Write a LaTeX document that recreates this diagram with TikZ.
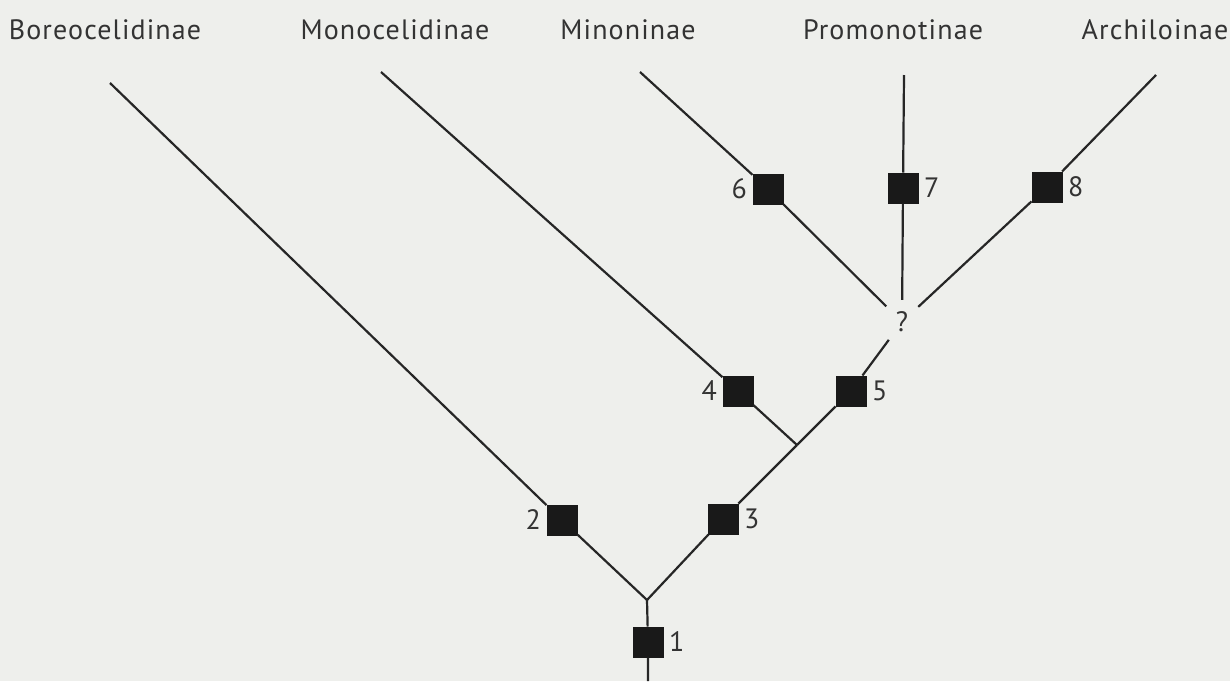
\documentclass[tikz,border=0pt]{standalone}
\usepackage{fontspec}
\setmainfont{PT Sans}[LetterSpace=4]
\begin{document}
\begin{tikzpicture}[x=1pt,y=-1pt,
  branch/.style={line width=2.2pt,black!85},
  apo/.style={fill=black!90,draw=none,minimum size=31pt,inner sep=0pt,outer sep=0pt},
  taxon/.style={font=\fontsize{28}{32}\selectfont,text=black!80,anchor=center},
  num/.style={font=\fontsize{28}{32}\selectfont,text=black!80},
]
\fill[fill={rgb,255:red,238;green,239;blue,236}] (0,0) rectangle (1230,681);
\useasboundingbox (0,0) rectangle (1230,681);
% taxa
\node[taxon] (tB) at (105,30) {Boreocelidinae};
\node[taxon] (tMo) at (395,30) {Monocelidinae};
\node[taxon] (tMi) at (628,30) {Minoninae};
\node[taxon] (tP) at (893,30) {Promonotinae};
\node[taxon] (tA) at (1155,30) {Archiloinae};
% leaf ends
\coordinate (lB) at (110,83);
\coordinate (lMo) at (381,72);
\coordinate (lMi) at (640,72);
\coordinate (lP) at (904,75);
\coordinate (lA) at (1156,75);
\coordinate (root) at (648,681);
\coordinate (f1) at (647,600);
\coordinate (f2) at (797,445);
% apomorphy squares
\node[apo,label={[num,label distance=2pt]right:1}] (s1) at (648,642) {};
\node[apo,label={[num,label distance=2pt]left:2}] (s2) at (562,520) {};
\node[apo,label={[num,label distance=2pt]right:3}] (s3) at (723,519) {};
\node[apo,label={[num,label distance=2pt]left:4}] (s4) at (738,391) {};
\node[apo,label={[num,label distance=2pt]right:5}] (s5) at (851,391) {};
\node[apo,label={[num,label distance=2pt]left:6}] (s6) at (768,189) {};
\node[apo,label={[num,label distance=2pt]right:7}] (s7) at (903,188) {};
\node[apo,label={[num,label distance=2pt]right:8}] (s8) at (1047,187) {};
\node[circle,minimum size=44pt,inner sep=0pt,num] (q) at (902,322) {?};
% branches
\draw[branch] (root) -- (s1) -- (f1);
\draw[branch] (f1) -- (s2) -- (lB);
\draw[branch] (f1) -- (s3) -- (f2);
\draw[branch] (f2) -- (s4) -- (lMo);
\draw[branch] (f2) -- (s5) -- (q);
\draw[branch] (q) -- (s6) -- (lMi);
\draw[branch] (q) -- (s7) -- (lP);
\draw[branch] (q) -- (s8) -- (lA);
\end{tikzpicture}
\end{document}
